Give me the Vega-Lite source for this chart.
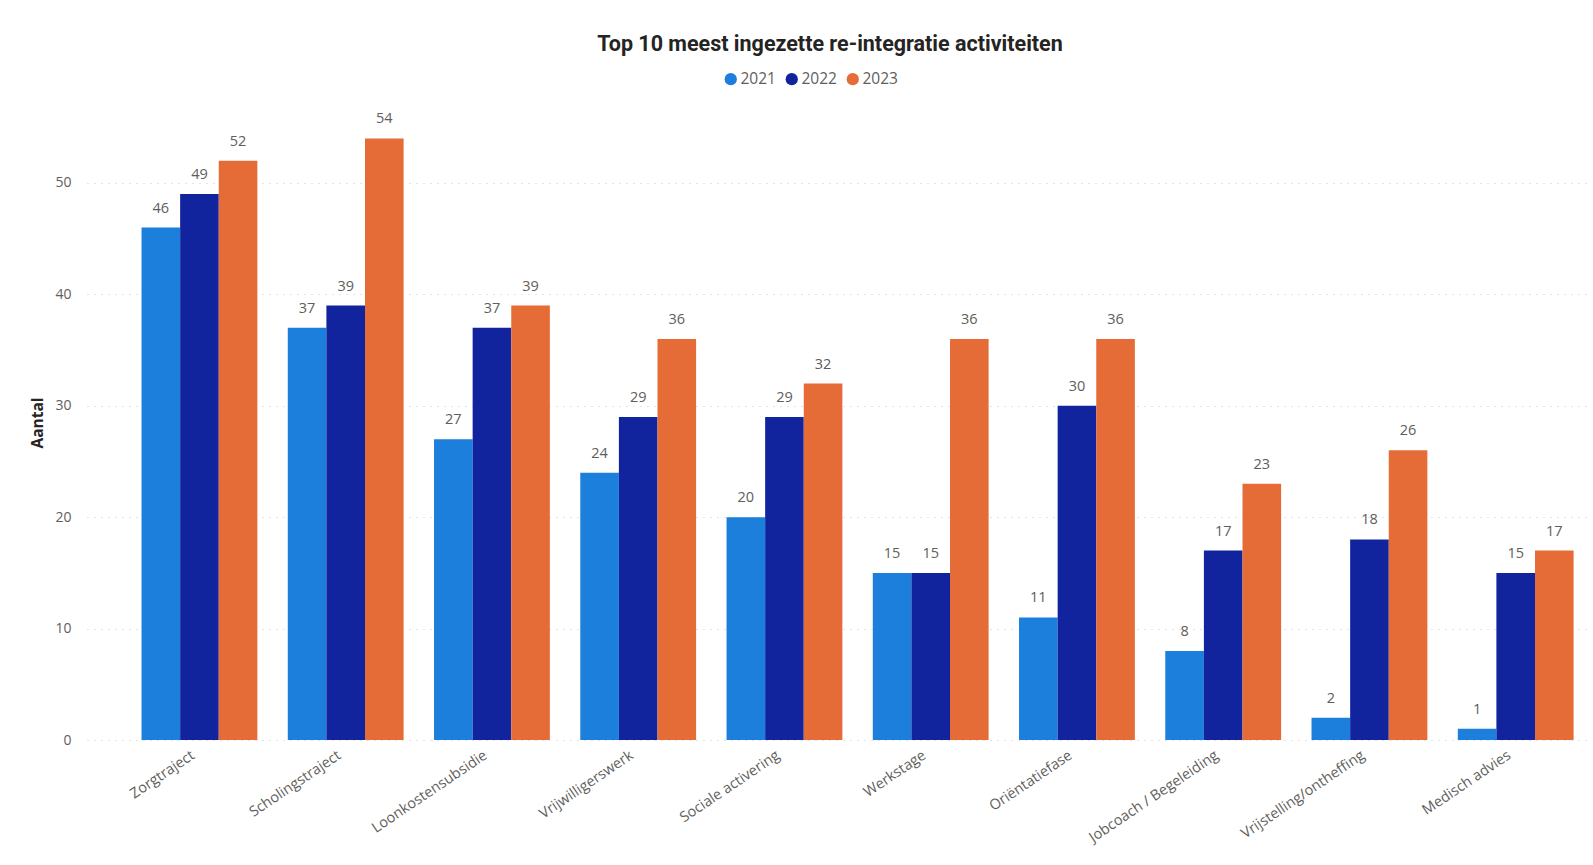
{
  "$schema": "https://vega.github.io/schema/vega-lite/v6.json",
  "autosize": {"type": "none"},
  "width": 1502,
  "height": 635,
  "padding": {"left": 87, "top": 105, "right": 4, "bottom": 125},
  "background": "white",
  "title": {
    "text": "Top 10 meest ingezette re-integratie activiteiten",
    "font": "Roboto",
    "fontSize": 21.5,
    "fontWeight": "bold",
    "color": "#252423",
    "anchor": "middle",
    "dx": -8,
    "offset": 16
  },
  "data": {
    "values": [
      {"activiteit": "Zorgtraject", "jaar": "2021", "aantal": 46},
      {"activiteit": "Zorgtraject", "jaar": "2022", "aantal": 49},
      {"activiteit": "Zorgtraject", "jaar": "2023", "aantal": 52},
      {"activiteit": "Scholingstraject", "jaar": "2021", "aantal": 37},
      {"activiteit": "Scholingstraject", "jaar": "2022", "aantal": 39},
      {"activiteit": "Scholingstraject", "jaar": "2023", "aantal": 54},
      {"activiteit": "Loonkostensubsidie", "jaar": "2021", "aantal": 27},
      {"activiteit": "Loonkostensubsidie", "jaar": "2022", "aantal": 37},
      {"activiteit": "Loonkostensubsidie", "jaar": "2023", "aantal": 39},
      {"activiteit": "Vrijwilligerswerk", "jaar": "2021", "aantal": 24},
      {"activiteit": "Vrijwilligerswerk", "jaar": "2022", "aantal": 29},
      {"activiteit": "Vrijwilligerswerk", "jaar": "2023", "aantal": 36},
      {"activiteit": "Sociale activering", "jaar": "2021", "aantal": 20},
      {"activiteit": "Sociale activering", "jaar": "2022", "aantal": 29},
      {"activiteit": "Sociale activering", "jaar": "2023", "aantal": 32},
      {"activiteit": "Werkstage", "jaar": "2021", "aantal": 15},
      {"activiteit": "Werkstage", "jaar": "2022", "aantal": 15},
      {"activiteit": "Werkstage", "jaar": "2023", "aantal": 36},
      {"activiteit": "Oriëntatiefase", "jaar": "2021", "aantal": 11},
      {"activiteit": "Oriëntatiefase", "jaar": "2022", "aantal": 30},
      {"activiteit": "Oriëntatiefase", "jaar": "2023", "aantal": 36},
      {"activiteit": "Jobcoach / Begeleiding", "jaar": "2021", "aantal": 8},
      {"activiteit": "Jobcoach / Begeleiding", "jaar": "2022", "aantal": 17},
      {"activiteit": "Jobcoach / Begeleiding", "jaar": "2023", "aantal": 23},
      {"activiteit": "Vrijstelling/ontheffing", "jaar": "2021", "aantal": 2},
      {"activiteit": "Vrijstelling/ontheffing", "jaar": "2022", "aantal": 18},
      {"activiteit": "Vrijstelling/ontheffing", "jaar": "2023", "aantal": 26},
      {"activiteit": "Medisch advies", "jaar": "2021", "aantal": 1},
      {"activiteit": "Medisch advies", "jaar": "2022", "aantal": 15},
      {"activiteit": "Medisch advies", "jaar": "2023", "aantal": 17}
    ]
  },
  "encoding": {
    "x": {
      "field": "activiteit",
      "type": "nominal",
      "sort": null,
      "scale": {"paddingInner": 0.208, "paddingOuter": 0.239, "align": 0.78},
      "axis": {
        "title": null,
        "labelAngle": -34,
        "labelAlign": "right",
        "labelBaseline": "top",
        "labelFont": "Open Sans",
        "labelFontSize": 14.5,
        "labelColor": "#605E5C",
        "labelPadding": 8,
        "labelOffset": -10,
        "ticks": false,
        "domain": false,
        "labelLimit": 300
      }
    },
    "xOffset": {
      "field": "jaar",
      "type": "nominal",
      "scale": {"paddingInner": 0, "paddingOuter": 0}
    },
    "y": {
      "field": "aantal",
      "type": "quantitative",
      "scale": {"domain": [0, 57], "nice": false},
      "axis": {
        "title": "Aantal",
        "titleFont": "Open Sans",
        "titleFontSize": 15.5,
        "titleFontWeight": "bold",
        "titleColor": "#252423",
        "titlePadding": 9,
        "values": [0, 10, 20, 30, 40, 50],
        "labelFont": "Open Sans",
        "labelFontSize": 14,
        "labelColor": "#605E5C",
        "labelPadding": 16,
        "ticks": false,
        "domain": false,
        "grid": true,
        "gridColor": "#C8C8C8",
        "gridDash": [1, 6],
        "gridWidth": 1
      }
    }
  },
  "layer": [
    {
      "mark": {"type": "bar"},
      "encoding": {
        "color": {
          "field": "jaar",
          "type": "nominal",
          "scale": {"domain": ["2021", "2022", "2023"], "range": ["#1B7FDB", "#12239E", "#E66C37"]},
          "legend": {
            "title": null,
            "orient": "none",
            "direction": "horizontal",
            "legendX": 636,
            "legendY": -34,
            "symbolType": "circle",
            "symbolSize": 150,
            "symbolOpacity": 1,
            "symbolStrokeWidth": 0,
            "labelFont": "Open Sans",
            "labelFontSize": 15.5,
            "labelColor": "#605E5C",
            "labelOffset": 2,
            "columnPadding": 8
          }
        }
      }
    },
    {
      "mark": {
        "type": "text",
        "baseline": "alphabetic",
        "dy": -15,
        "font": "Open Sans",
        "fontSize": 14.5,
        "color": "#605E5C"
      },
      "encoding": {"text": {"field": "aantal", "type": "quantitative"}}
    }
  ],
  "config": {"view": {"stroke": null}}
}
